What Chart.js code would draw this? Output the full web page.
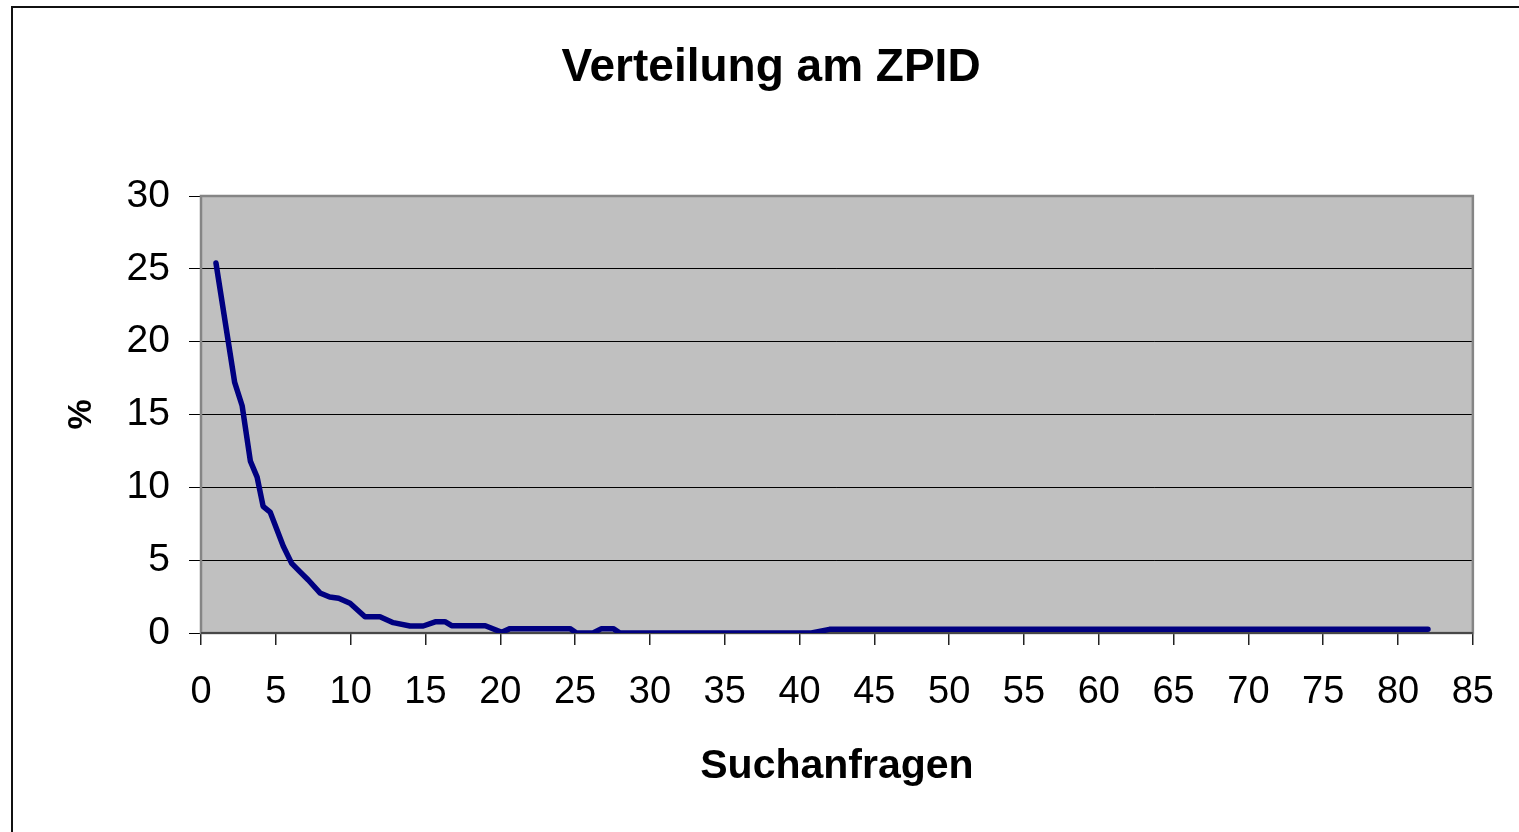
<!DOCTYPE html>
<html>
<head>
<meta charset="utf-8">
<script src="https://cdn.jsdelivr.net/npm/chart.js@4/dist/chart.umd.min.js"></script>
<style>
  html, body { margin: 0; padding: 0; background: #fff; overflow: hidden; }
  #rahmen { position: absolute; left: 11px; top: 6px; width: 1600px; height: 900px; border: 2px solid #111; box-sizing: border-box; }
  #wrap { position: absolute; left: 0; top: 0; width: 1519px; height: 832px; }
</style>
</head>
<body>
<div id="rahmen"></div>
<div id="wrap"><canvas id="grafik"></canvas></div>
<script>
// --- Daten ---
const titel = "Verteilung am ZPID";
const xTitel = "Suchanfragen";
const yTitel = "%";

const suchanfragen = [1.0, 2.25, 2.75, 3.3, 3.75, 4.15, 4.62, 5.5, 6.06, 6.62, 7.17, 7.95, 8.6, 9.2, 9.96,
  10.96, 11.96, 12.85, 13.97, 14.85, 15.7, 16.3, 16.75, 19.0, 20.1, 20.65, 24.66, 25.1, 26.2, 26.77,
  27.55, 28.0, 40.8, 42.0, 82.0];
const prozent = [25.4, 17.2, 15.6, 11.8, 10.7, 8.7, 8.3, 5.95, 4.78, 4.2, 3.64, 2.75, 2.47, 2.38, 2.04,
  1.12, 1.12, 0.71, 0.48, 0.48, 0.78, 0.78, 0.5, 0.5, 0.05, 0.3, 0.3, 0, 0, 0.3,
  0.3, 0, 0, 0.25, 0.25];

const xMin = 0, xMax = 85, xStep = 5;
const yMin = 0, yMax = 30, yStep = 5;

// --- Hilfs-Plugin: Hintergrund, Rahmen, Titel ---
const zeichenflaeche = {
  id: 'zeichenflaeche',
  beforeDraw(chart) {
    const { ctx, chartArea: a } = chart;
    ctx.save();
    ctx.fillStyle = '#c0c0c0';
    ctx.fillRect(a.left, a.top, a.right - a.left, a.bottom - a.top);
    ctx.restore();
  },
  beforeDatasetsDraw(chart) {
    const { ctx, chartArea: a } = chart;
    ctx.save();
    ctx.strokeStyle = '#858585';
    ctx.lineWidth = 2.5;
    ctx.strokeRect(a.left, a.top, a.right - a.left, a.bottom - a.top);
    ctx.strokeStyle = '#333';
    ctx.lineWidth = 1.5;
    ctx.beginPath();
    ctx.moveTo(a.left, a.bottom);
    ctx.lineTo(a.right, a.bottom);
    ctx.stroke();
    ctx.restore();
  },
  afterDraw(chart) {
    const { ctx } = chart;
    ctx.save();
    ctx.fillStyle = '#000';
    ctx.font = 'bold 46px "Liberation Sans", Arial, sans-serif';
    ctx.textAlign = 'center';
    ctx.textBaseline = 'middle';
    ctx.fillText(titel, 771, 68);
    ctx.restore();
  }
};

const ctx = document.getElementById('grafik').getContext('2d');
new Chart(ctx, {
  type: 'line',
  data: {
    datasets: [{
      data: suchanfragen.map((x, i) => ({ x: x, y: prozent[i] })),
      borderColor: '#000080',
      borderWidth: 5.5,
      borderCapStyle: 'round',
      borderJoinStyle: 'round',
      pointRadius: 0,
      tension: 0,
      fill: false
    }]
  },
  options: {
    responsive: true,
    maintainAspectRatio: false,
    animation: false,
    layout: { padding: { top: 196, right: 46, left: 0, bottom: 0 } },
    plugins: {
      legend: { display: false },
      title: { display: false },
      tooltip: { enabled: false }
    },
    scales: {
      x: {
        type: 'linear',
        min: xMin, max: xMax,
        afterFit: (s) => { s.height = 199; },
        ticks: {
          stepSize: xStep,
          color: '#000',
          padding: 25,
          maxRotation: 0,
          font: { family: '"Liberation Sans", Arial, sans-serif', size: 38 }
        },
        grid: { drawOnChartArea: false, drawTicks: true, tickLength: 12, color: '#222', lineWidth: 1.5 },
        border: { display: false },
        title: {
          display: true,
          text: xTitel,
          color: '#000',
          padding: { top: 0, bottom: 41 },
          font: { family: '"Liberation Sans", Arial, sans-serif', size: 41, weight: 'bold' }
        }
      },
      y: {
        min: yMin, max: yMax,
        afterFit: (s) => { s.width = 201; },
        ticks: {
          stepSize: yStep,
          color: '#000',
          padding: 19,
          font: { family: '"Liberation Sans", Arial, sans-serif', size: 39 }
        },
        grid: { color: '#000', lineWidth: 1, tickLength: 12, drawTicks: true },
        border: { display: false },
        title: {
          display: true,
          text: yTitel,
          color: '#000',
          padding: { top: 61, bottom: 0 },
          font: { family: '"Liberation Sans", Arial, sans-serif', size: 34, weight: 'bold' }
        }
      }
    }
  },
  plugins: [zeichenflaeche]
});
</script>
</body>
</html>
